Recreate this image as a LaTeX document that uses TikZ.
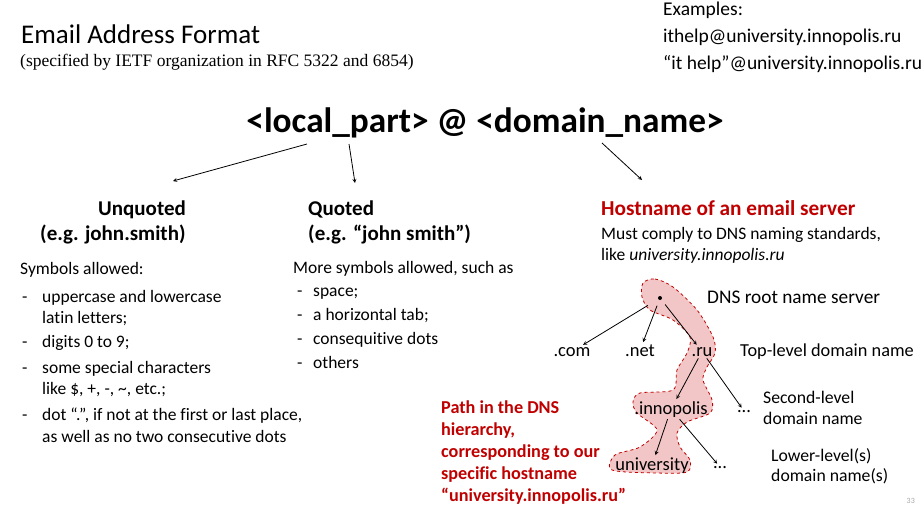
\documentclass[tikz,border=0pt]{standalone}
\usepackage{fontspec}
\setmainfont[Ligatures=NoCommon]{Carlito}
\newfontfamily\serifrm{Liberation Serif}
\usepackage{xcolor}
\usepackage{tikz}
\usetikzlibrary{positioning}
\definecolor{pathred}{RGB}{192,0,0}
\definecolor{blobpink}{RGB}{242,198,198}

\begin{document}
\begin{tikzpicture}[x=1pt,y=-1pt]
      \tikzset{txt/.style={inner sep=0pt,anchor=base west,font=\fontsize{17.5}{21}\selectfont}}
      \tikzset{head/.style={txt,font=\fontsize{21}{25}\selectfont\bfseries}}
      \tikzset{redtxt/.style={txt,text=pathred,font=\fontsize{18.2}{22}\selectfont\bfseries}}
      \tikzset{dom/.style={inner sep=2pt,anchor=base,font=\fontsize{18.5}{22}\selectfont}}
      \tikzset{lvl/.style={txt,font=\fontsize{17.7}{21}\selectfont}}
      \tikzset{arr/.style={->,>=stealth,line width=0.8pt}}
      
      \useasboundingbox (0,0) rectangle (923,507);
      
      % path through the tree
      \draw[pathred,dashed,thick,fill=blobpink] plot[smooth cycle] coordinates {
        (643,283) (655,279) (673,287) (697,310) (713,337) (715,353) (707,367)
        (703,380) (712,400) (710,413) (687,422) (677,433) (680,447) (690,460)
        (687,472) (657,473) (612,470) (615,455) (640,447) (657,430) (637,413)
        (633,402) (640,393) (673,390) (677,370) (687,353) (690,337) (673,320)
        (650,310) (642,297)};
      
      % titles
      \node[txt,font=\fontsize{27}{32}\selectfont] (title) at (21,43) {Email Address Format};
      \node[txt,font=\fontsize{17.5}{20}\serifrm] (rfc) at (20,66) {(specified by IETF organization in RFC 5322 and 6854)};
      \node[txt,font=\fontsize{19.5}{23}\selectfont] (ex) at (663,15) {Examples:};
      \node[txt,font=\fontsize{19.5}{23}\selectfont] (ex1) at (663,42) {ithelp@university.innopolis.ru};
      \node[txt,font=\fontsize{19.5}{23}\selectfont] (ex2) at (663,69) {“it help”@university.innopolis.ru};
      
      \node[inner sep=0pt,anchor=base,font=\fontsize{35.3}{42}\selectfont\bfseries] (addr) at (485,132) {<local\_part> @ <domain\_name>};
      \coordinate (lp) at (307,144);
      \coordinate (qp) at (349,144);
      \coordinate (dp) at (602,143);
      \coordinate (lpend) at (173,181);
      \coordinate (qpend) at (355,183);
      \coordinate (dpend) at (642,180);
      
      % unquoted
      \node[head,anchor=base] (unq) at (142,215) {Unquoted};
      \node[head] (unqeg) at (40,240) {(e.g. john.smith)};
      \node[txt] (unqsym) at (20,274) {Symbols allowed:};
      \node[txt] (u1) at (42,302) {uppercase and lowercase};
      \node[txt] (u1b) at (42,323) {latin letters;};
      \node[txt] (u2) at (42,347) {digits 0 to 9;};
      \node[txt] (u3) at (42,373) {some special characters};
      \node[txt] (u3b) at (42,394) {like \$, +, -, \textasciitilde, etc.;};
      \node[txt] (u4) at (42,420) {dot “.”, if not at the first or last place,};
      \node[txt] (u4b) at (42,442) {as well as no two consecutive dots};
      \foreach \y in {302,347,373,420}
        \node[txt] (ud\y) at (22,\y) {-};
      
      % quoted
      \node[head] (quo) at (308,215) {Quoted};
      \node[head] (quoeg) at (308,240) {(e.g. “john smith”)};
      \node[txt] (quosym) at (293,273) {More symbols allowed, such as};
      \node[txt] (q1) at (313,296) {space;};
      \node[txt] (q2) at (313,320) {a horizontal tab;};
      \node[txt] (q3) at (313,344) {consequitive dots};
      \node[txt] (q4) at (313,368) {others};
      \foreach \y in {296,320,344,368}
        \node[txt] (qd\y) at (297,\y) {-};
      
      % hostname
      \node[head,text=pathred,font=\fontsize{21.3}{25}\selectfont\bfseries] (host) at (601,215) {Hostname of an email server};
      \node[txt] (host1) at (601,239) {Must comply to DNS naming standards,};
      \node[txt] (host2) at (601,260) {like \textit{university.innopolis.ru}};
      
      \draw[arr] (lp) -- (lpend);
      \draw[arr] (qp) -- (qpend);
      \draw[arr] (dp) -- (dpend);
      
      % dns tree
      \node[circle,fill=black,inner sep=0pt,minimum size=4pt] (root) at (660,298) {};
      \node[txt,font=\fontsize{19.3}{23}\selectfont] (rootl) at (707,303) {DNS root name server};
      \node[dom] (com) at (572,356) {.com};
      \node[dom] (net) at (640,356) {.net};
      \node[dom] (ru) at (702,356) {.ru};
      \node[txt,font=\fontsize{18.3}{22}\selectfont] (tld) at (740,356) {Top-level domain name};
      \node[dom] (inno) at (671,414) {.innopolis};
      \node[dom] (dots1) at (744,412) {...};
      \node[lvl] (sld) at (763,403) {Second-level};
      \node[lvl] (sld2) at (763,424) {domain name};
      \node[dom] (univ) at (652,470) {university};
      \node[dom] (dots2) at (720,468) {...};
      \node[lvl] (lld) at (771,461) {Lower-level(s)};
      \node[lvl] (lld2) at (771,481) {domain name(s)};
      
      \draw[arr,shorten <=12pt] (root) -- (com);
      \draw[arr,shorten <=6pt] (root) -- (net);
      \draw[arr,shorten <=6pt] (root) -- (ru);
      \draw[arr] (ru) -- (inno);
      \draw[arr] (ru) -- (dots1);
      \draw[arr] (inno) -- (univ);
      \draw[arr] (inno) -- (dots2);
      
      % path label
      \node[redtxt] (p1) at (441,413) {Path in the DNS};
      \node[redtxt] (p2) at (441,435) {hierarchy,};
      \node[redtxt] (p3) at (441,457) {corresponding to our};
      \node[redtxt] (p4) at (441,479) {specific hostname};
      \node[redtxt] (p5) at (441,501) {“university.innopolis.ru”};
      
      \node[inner sep=0pt,anchor=base east,text=gray!70,font=\fontsize{8}{9}\selectfont] (page) at (915,503) {33};
      
    \end{tikzpicture}
\end{document}
